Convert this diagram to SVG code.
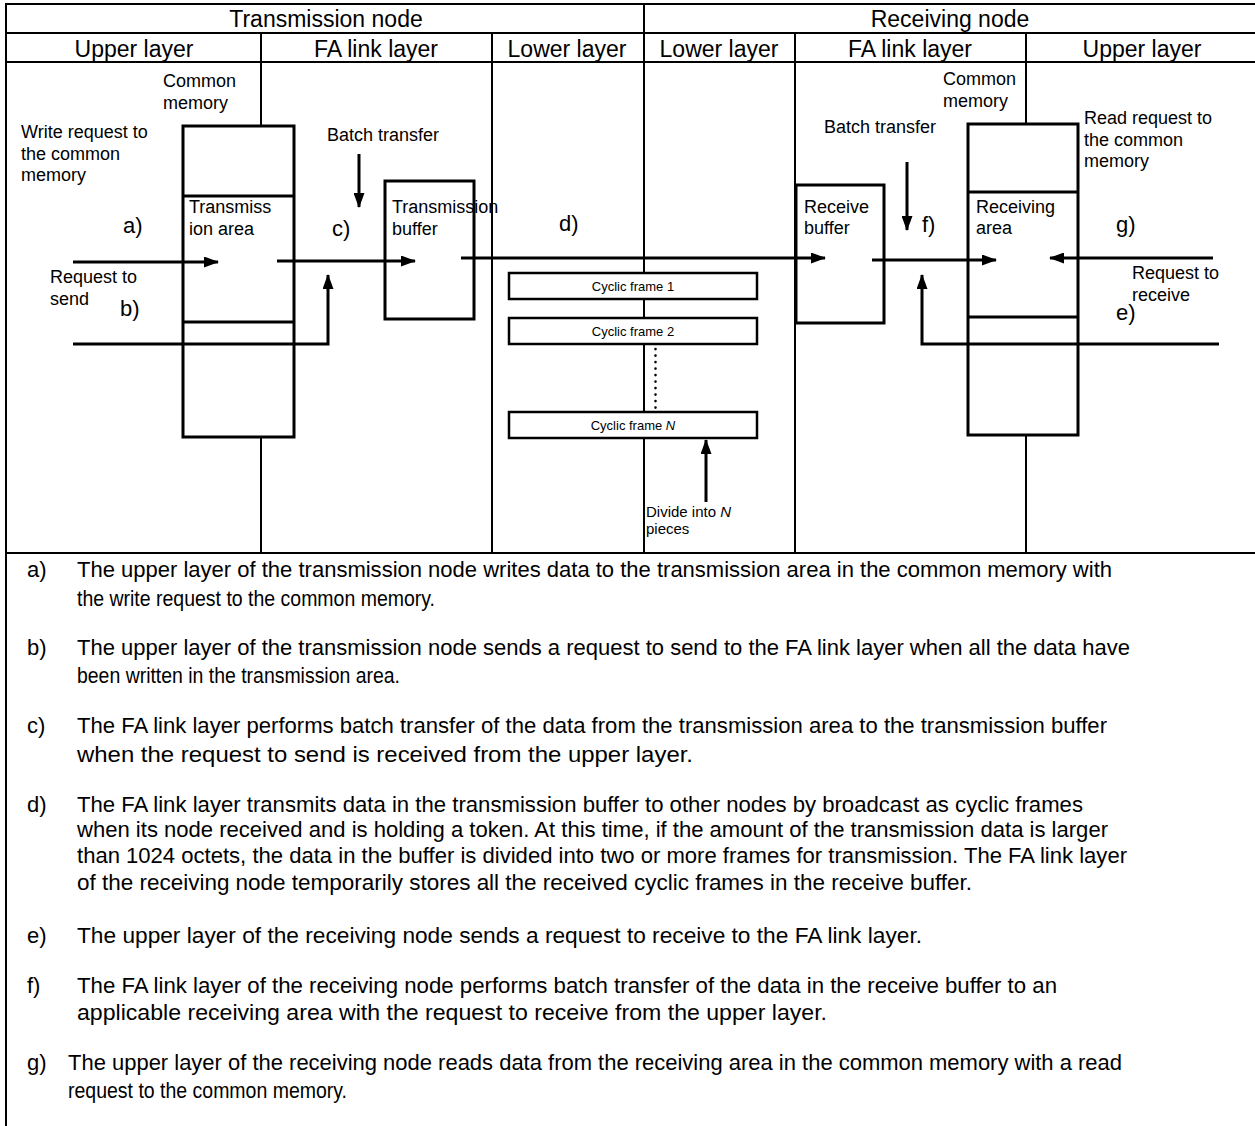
<svg xmlns="http://www.w3.org/2000/svg" width="1255" height="1126" viewBox="0 0 1255 1126">
<style>
  .grid { stroke: #000; stroke-width: 2; fill: none; }
  .box { stroke: #000; stroke-width: 3; fill: none; }
  .frame { stroke: #000; stroke-width: 2.5; fill: #fff; }
  .conn { stroke: #000; stroke-width: 3; fill: none; }
  text { font-family: "Liberation Sans", Arial, sans-serif; fill: #000; }
  .hdr { font-size: 23px; text-anchor: middle; }
  .lbl { font-size: 18px; }
  .big { font-size: 22px; }
  .cf { font-size: 13px; text-anchor: middle; }
  .note { font-size: 22px; }
</style>
<defs>
  <marker id="ah" markerUnits="userSpaceOnUse" markerWidth="15" markerHeight="11" refX="14" refY="5.5" orient="auto">
    <path d="M0,0 L15,5.5 L0,11 z" fill="#000"/>
  </marker>
</defs>
<rect x="0" y="0" width="1255" height="1126" fill="#fff"/>

<g id="grid">
  <line class="grid" x1="5" y1="4" x2="1255" y2="4"/>
  <line class="grid" x1="6" y1="4" x2="6" y2="1126"/>
  <line class="grid" x1="6" y1="33" x2="1255" y2="33"/>
  <line class="grid" x1="6" y1="62" x2="1255" y2="62"/>
  <line class="grid" x1="6" y1="553" x2="1255" y2="553"/>
  <line class="grid" x1="644" y1="4" x2="644" y2="553"/>
  <line class="grid" x1="261" y1="33" x2="261" y2="126"/>
  <line class="grid" x1="261" y1="437" x2="261" y2="553"/>
  <line class="grid" x1="492" y1="33" x2="492" y2="553"/>
  <line class="grid" x1="795" y1="33" x2="795" y2="553"/>
  <line class="grid" x1="1026" y1="33" x2="1026" y2="124"/>
  <line class="grid" x1="1026" y1="435" x2="1026" y2="553"/>
</g>

<g id="header">
  <text class="hdr" x="326" y="27">Transmission node</text>
  <text class="hdr" x="950" y="27">Receiving node</text>
  <text class="hdr" x="134" y="57">Upper layer</text>
  <text class="hdr" x="376" y="57">FA link layer</text>
  <text class="hdr" x="567" y="57">Lower layer</text>
  <text class="hdr" x="719" y="57">Lower layer</text>
  <text class="hdr" x="910" y="57">FA link layer</text>
  <text class="hdr" x="1142" y="57">Upper layer</text>
</g>

<g id="common-memory-tx">
  <rect class="box" x="183" y="126" width="111" height="311"/>
  <line class="box" x1="183" y1="196" x2="294" y2="196"/>
  <line class="box" x1="183" y1="322" x2="294" y2="322"/>
  <text class="lbl" x="163" y="87">Common</text>
  <text class="lbl" x="163" y="109">memory</text>
  <text class="lbl" x="189" y="213">Transmiss</text>
  <text class="lbl" x="189" y="235">ion area</text>
</g>

<g id="transmission-buffer">
  <rect class="box" x="385" y="181" width="89" height="138"/>
  <text class="lbl" x="392" y="213">Transmission</text>
  <text class="lbl" x="392" y="235">buffer</text>
</g>

<g id="cyclic-frames">
  <rect class="frame" x="509" y="273" width="248" height="26"/>
  <text class="cf" x="633" y="291">Cyclic frame 1</text>
  <rect class="frame" x="509" y="318" width="248" height="26"/>
  <text class="cf" x="633" y="336">Cyclic frame 2</text>
  <rect class="frame" x="509" y="412" width="248" height="26"/>
  <text class="cf" x="633" y="430">Cyclic frame <tspan font-style="italic">N</tspan></text>
  <line x1="655.5" y1="349" x2="655.5" y2="409" stroke="#000" stroke-width="2.6" stroke-linecap="round" stroke-dasharray="0.1 6.4"/>
  <text x="646" y="517" font-size="15">Divide into <tspan font-style="italic">N</tspan></text>
  <text x="646" y="534" font-size="15">pieces</text>
</g>

<g id="receive-buffer">
  <rect class="box" x="796" y="185" width="88" height="138"/>
  <text class="lbl" x="804" y="213">Receive</text>
  <text class="lbl" x="804" y="234">buffer</text>
</g>

<g id="common-memory-rx">
  <rect class="box" x="968" y="124" width="110" height="311"/>
  <line class="box" x1="968" y1="192" x2="1078" y2="192"/>
  <line class="box" x1="968" y1="317" x2="1078" y2="317"/>
  <text class="lbl" x="943" y="85">Common</text>
  <text class="lbl" x="943" y="107">memory</text>
  <text class="lbl" x="976" y="213">Receiving</text>
  <text class="lbl" x="976" y="234">area</text>
</g>

<g id="connectors">
  <line class="conn" x1="73" y1="262" x2="218" y2="262" marker-end="url(#ah)"/>
  <polyline class="conn" points="73,344 328,344 328,275" marker-end="url(#ah)"/>
  <line class="conn" x1="277" y1="261" x2="415" y2="261" marker-end="url(#ah)"/>
  <line class="conn" x1="359" y1="154" x2="359" y2="207" marker-end="url(#ah)"/>
  <line class="conn" x1="461" y1="258" x2="825" y2="258" marker-end="url(#ah)"/>
  <line class="conn" x1="706" y1="502" x2="706" y2="440" marker-end="url(#ah)"/>
  <line class="conn" x1="907" y1="162" x2="907" y2="230" marker-end="url(#ah)"/>
  <line class="conn" x1="872" y1="260" x2="996" y2="260" marker-end="url(#ah)"/>
  <line class="conn" x1="1213" y1="258" x2="1050" y2="258" marker-end="url(#ah)"/>
  <polyline class="conn" points="1219,344 922,344 922,275" marker-end="url(#ah)"/>
</g>

<g id="labels">
  <text class="lbl" x="21" y="138">Write request to</text>
  <text class="lbl" x="21" y="160">the common</text>
  <text class="lbl" x="21" y="181">memory</text>
  <text class="big" x="123" y="233">a)</text>
  <text class="lbl" x="50" y="283">Request to</text>
  <text class="lbl" x="50" y="305">send</text>
  <text class="big" x="120" y="316">b)</text>
  <text class="lbl" x="327" y="141">Batch transfer</text>
  <text class="big" x="332" y="236">c)</text>
  <text class="big" x="559" y="231">d)</text>
  <text class="lbl" x="824" y="133">Batch transfer</text>
  <text class="big" x="922" y="232">f)</text>
  <text class="lbl" x="1084" y="124">Read request to</text>
  <text class="lbl" x="1084" y="146">the common</text>
  <text class="lbl" x="1084" y="167">memory</text>
  <text class="big" x="1116" y="232">g)</text>
  <text class="lbl" x="1132" y="279">Request to</text>
  <text class="lbl" x="1132" y="301">receive</text>
  <text class="big" x="1116" y="320">e)</text>
</g>

<g id="notes" class="note">
  <text x="27" y="577">a)</text>
  <text x="77" y="577" textLength="1035" lengthAdjust="spacingAndGlyphs">The upper layer of the transmission node writes data to the transmission area in the common memory with</text>
  <text x="77" y="606" textLength="358" lengthAdjust="spacingAndGlyphs">the write request to the common memory.</text>
  <text x="27" y="655">b)</text>
  <text x="77" y="655" textLength="1053" lengthAdjust="spacingAndGlyphs">The upper layer of the transmission node sends a request to send to the FA link layer when all the data have</text>
  <text x="77" y="683" textLength="323" lengthAdjust="spacingAndGlyphs">been written in the transmission area.</text>
  <text x="27" y="733">c)</text>
  <text x="77" y="733" textLength="1030" lengthAdjust="spacingAndGlyphs">The FA link layer performs batch transfer of the data from the transmission area to the transmission buffer</text>
  <text x="77" y="762" textLength="616" lengthAdjust="spacingAndGlyphs">when the request to send is received from the upper layer.</text>
  <text x="27" y="812">d)</text>
  <text x="77" y="812" textLength="1006" lengthAdjust="spacingAndGlyphs">The FA link layer transmits data in the transmission buffer to other nodes by broadcast as cyclic frames</text>
  <text x="77" y="837" textLength="1031" lengthAdjust="spacingAndGlyphs">when its node received and is holding a token. At this time, if the amount of the transmission data is larger</text>
  <text x="77" y="863" textLength="1050" lengthAdjust="spacingAndGlyphs">than 1024 octets, the data in the buffer is divided into two or more frames for transmission. The FA link layer</text>
  <text x="77" y="890" textLength="895" lengthAdjust="spacingAndGlyphs">of the receiving node temporarily stores all the received cyclic frames in the receive buffer.</text>
  <text x="27" y="943">e)</text>
  <text x="77" y="943" textLength="845" lengthAdjust="spacingAndGlyphs">The upper layer of the receiving node sends a request to receive to the FA link layer.</text>
  <text x="27" y="993">f)</text>
  <text x="77" y="993" textLength="980" lengthAdjust="spacingAndGlyphs">The FA link layer of the receiving node performs batch transfer of the data in the receive buffer to an</text>
  <text x="77" y="1020" textLength="750" lengthAdjust="spacingAndGlyphs">applicable receiving area with the request to receive from the upper layer.</text>
  <text x="27" y="1070">g)</text>
  <text x="68" y="1070" textLength="1054" lengthAdjust="spacingAndGlyphs">The upper layer of the receiving node reads data from the receiving area in the common memory with a read</text>
  <text x="68" y="1098" textLength="279" lengthAdjust="spacingAndGlyphs">request to the common memory.</text>
</g>
</svg>
